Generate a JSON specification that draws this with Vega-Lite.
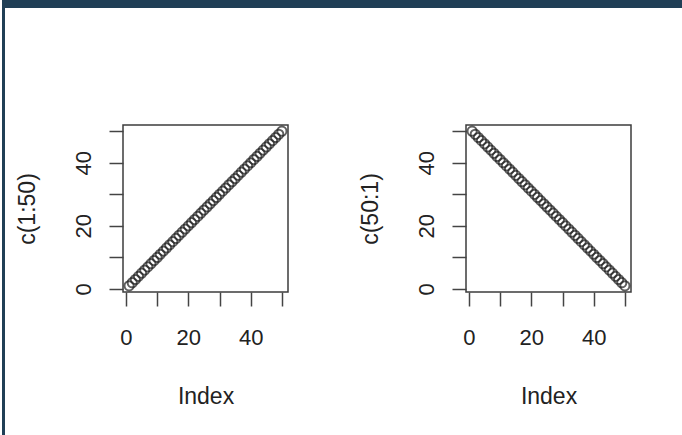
{
  "$schema": "https://vega.github.io/schema/vega-lite/v6.json",
  "padding": 0,
  "background": "white",
  "datasets": {
    "pts": [
      {"i":1,"a":1,"b":50},{"i":2,"a":2,"b":49},{"i":3,"a":3,"b":48},{"i":4,"a":4,"b":47},{"i":5,"a":5,"b":46},
      {"i":6,"a":6,"b":45},{"i":7,"a":7,"b":44},{"i":8,"a":8,"b":43},{"i":9,"a":9,"b":42},{"i":10,"a":10,"b":41},
      {"i":11,"a":11,"b":40},{"i":12,"a":12,"b":39},{"i":13,"a":13,"b":38},{"i":14,"a":14,"b":37},{"i":15,"a":15,"b":36},
      {"i":16,"a":16,"b":35},{"i":17,"a":17,"b":34},{"i":18,"a":18,"b":33},{"i":19,"a":19,"b":32},{"i":20,"a":20,"b":31},
      {"i":21,"a":21,"b":30},{"i":22,"a":22,"b":29},{"i":23,"a":23,"b":28},{"i":24,"a":24,"b":27},{"i":25,"a":25,"b":26},
      {"i":26,"a":26,"b":25},{"i":27,"a":27,"b":24},{"i":28,"a":28,"b":23},{"i":29,"a":29,"b":22},{"i":30,"a":30,"b":21},
      {"i":31,"a":31,"b":20},{"i":32,"a":32,"b":19},{"i":33,"a":33,"b":18},{"i":34,"a":34,"b":17},{"i":35,"a":35,"b":16},
      {"i":36,"a":36,"b":15},{"i":37,"a":37,"b":14},{"i":38,"a":38,"b":13},{"i":39,"a":39,"b":12},{"i":40,"a":40,"b":11},
      {"i":41,"a":41,"b":10},{"i":42,"a":42,"b":9},{"i":43,"a":43,"b":8},{"i":44,"a":44,"b":7},{"i":45,"a":45,"b":6},
      {"i":46,"a":46,"b":5},{"i":47,"a":47,"b":4},{"i":48,"a":48,"b":3},{"i":49,"a":49,"b":2},{"i":50,"a":50,"b":1}
    ],
    "blank": [{"k": 0}]
  },
  "config": {
    "axis": {
      "labelFont": "Liberation Sans",
      "labelFontSize": 22,
      "labelColor": "#222222",
      "titleFont": "Liberation Sans",
      "titleFontSize": 23,
      "titleFontWeight": "normal",
      "titleColor": "#222222",
      "tickColor": "#444444",
      "tickWidth": 1.5,
      "tickSize": 14,
      "grid": false,
      "domain": false,
      "labelOverlap": false,
      "labelFlush": false
    }
  },
  "bounds": "flush",
  "spacing": 0,
  "vconcat": [
    {
      "data": {"name": "blank"},
      "width": 682,
      "height": 8,
      "view": {"fill": "#203f56", "stroke": null},
      "mark": {"type": "point", "opacity": 0},
      "encoding": {}
    },
    {
      "bounds": "flush",
      "spacing": 118,
      "hconcat": [
        {
          "data": {"name": "blank"},
          "width": 3,
          "height": 427,
          "view": {"fill": "#203f56", "stroke": null},
          "mark": {"type": "point", "opacity": 0},
          "encoding": {}
        },
        {
          "bounds": "flush",
          "spacing": 116,
          "vconcat": [
            {
              "data": {"name": "blank"},
              "width": 1,
              "height": 1,
              "view": {"stroke": null},
              "mark": {"type": "point", "opacity": 0},
              "encoding": {}
            },
            {
              "bounds": "flush",
              "spacing": 178,
              "hconcat": [
                {
                  "data": {"name": "pts"},
                  "width": 165,
                  "height": 167,
                  "view": {"stroke": "#3c3c3c", "strokeWidth": 1.5, "fill": "white"},
                  "mark": {"type": "point", "shape": "circle", "filled": false, "size": 85, "strokeWidth": 2, "color": "#1e1e1e"},
                  "encoding": {
                    "x": {
                      "field": "i", "type": "quantitative",
                      "scale": {"domain": [-0.96, 51.96], "nice": false, "zero": false},
                      "axis": {"title": "Index", "values": [0, 10, 20, 30, 40, 50], "labelExpr": "datum.value % 20 == 0 ? datum.label : ''", "labelPadding": 21, "titlePadding": 37}
                    },
                    "y": {
                      "field": "a", "type": "quantitative",
                      "scale": {"domain": [-0.96, 51.96], "nice": false, "zero": false},
                      "axis": {"title": "c(1:50)", "values": [0, 10, 20, 30, 40, 50], "labelExpr": "datum.value % 20 == 0 ? datum.label : ''", "labelAngle": 270, "labelAlign": "center", "labelBaseline": "middle", "labelPadding": 26, "titlePadding": 33}
                    }
                  }
                },
                {
                  "data": {"name": "pts"},
                  "width": 165,
                  "height": 167,
                  "view": {"stroke": "#3c3c3c", "strokeWidth": 1.5, "fill": "white"},
                  "mark": {"type": "point", "shape": "circle", "filled": false, "size": 85, "strokeWidth": 2, "color": "#1e1e1e"},
                  "encoding": {
                    "x": {
                      "field": "i", "type": "quantitative",
                      "scale": {"domain": [-0.96, 51.96], "nice": false, "zero": false},
                      "axis": {"title": "Index", "values": [0, 10, 20, 30, 40, 50], "labelExpr": "datum.value % 20 == 0 ? datum.label : ''", "labelPadding": 21, "titlePadding": 37}
                    },
                    "y": {
                      "field": "b", "type": "quantitative",
                      "scale": {"domain": [-0.96, 51.96], "nice": false, "zero": false},
                      "axis": {"title": "c(50:1)", "values": [0, 10, 20, 30, 40, 50], "labelExpr": "datum.value % 20 == 0 ? datum.label : ''", "labelAngle": 270, "labelAlign": "center", "labelBaseline": "middle", "labelPadding": 26, "titlePadding": 33}
                    }
                  }
                }
              ]
            }
          ]
        }
      ]
    }
  ]
}
